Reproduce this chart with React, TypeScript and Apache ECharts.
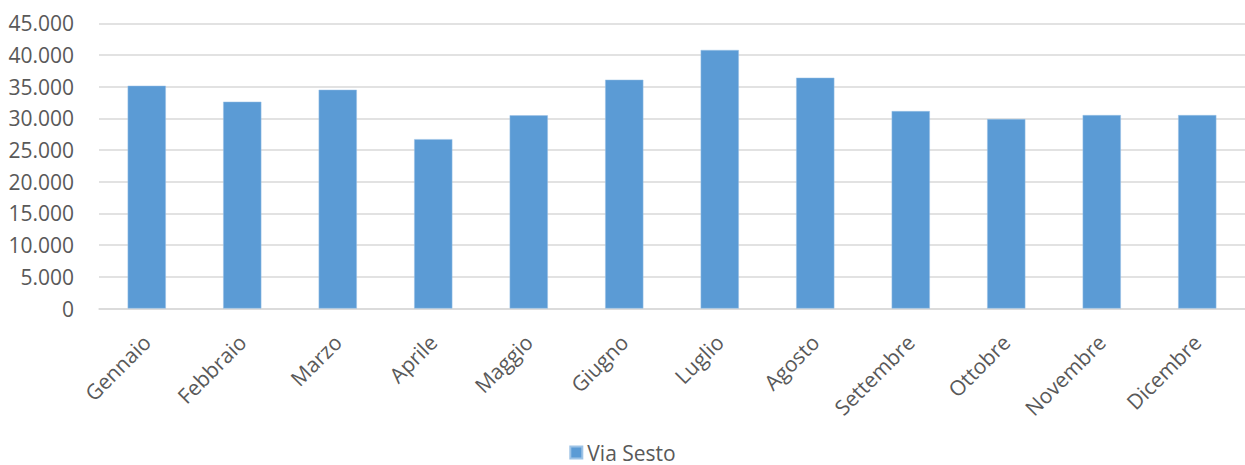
import React, { useEffect, useRef } from "react";
import * as echarts from "echarts";

const months = [
  "Gennaio", "Febbraio", "Marzo", "Aprile", "Maggio", "Giugno",
  "Luglio", "Agosto", "Settembre", "Ottobre", "Novembre", "Dicembre",
];
const viaSesto = [35150, 32630, 34520, 26720, 30480, 36100, 40790, 36420, 31150, 29890, 30520, 30520];
const seriesName = "Via Sesto";

const fmt = (v: number) =>
  v === 0 ? "0" : String(Math.round(v)).replace(/\B(?=(\d{3})+(?!\d))/g, ".");

export default function App() {
  const ref = useRef<HTMLDivElement>(null);
  useEffect(() => {
    if (!ref.current) return;
    const chart = echarts.init(ref.current, null, { renderer: "svg" });
    const font = "'Open Sans', 'Liberation Sans', sans-serif";
    chart.setOption({
      animation: false,
      backgroundColor: "#ffffff",
      grid: { left: 99, right: 0, top: 23.3, bottom: 156.5, containLabel: false },
      legend: {
        top: 442,
        left: "center",
        padding: 0,
        icon: "rect",
        itemWidth: 12,
        itemHeight: 12,
        itemGap: 10,
        textStyle: { color: "#595959", fontSize: 21, lineHeight: 21, fontFamily: font },
        data: [seriesName],
      },
      xAxis: {
        type: "category",
        data: months,
        axisLine: { show: true, lineStyle: { color: "#d9d9d9", width: 1.5 } },
        axisTick: { show: false },
        axisLabel: {
          rotate: 45,
          color: "#595959",
          fontSize: 21,
          fontFamily: font,
          margin: 30,
          interval: 0,
        },
      },
      yAxis: {
        type: "value",
        min: 0,
        max: 45000,
        interval: 5000,
        axisLine: { show: false },
        axisTick: { show: false },
        splitLine: { lineStyle: { color: "#d9d9d9", width: 1.5 } },
        axisLabel: {
          color: "#595959",
          fontSize: 21,
          fontFamily: font,
          margin: 25,
          formatter: fmt,
        },
      },
      series: [
        {
          name: seriesName,
          type: "bar",
          data: viaSesto,
          barWidth: "40%",
          itemStyle: { color: "#5b9bd5", borderColor: "#9dc3e6", borderWidth: 0.5 },
        },
      ],
    });
    return () => chart.dispose();
  }, []);
  return (
    <div
      ref={ref}
      style={{ position: "fixed", left: 0, top: 0, width: 1245, height: 465 }}
    />
  );
}
